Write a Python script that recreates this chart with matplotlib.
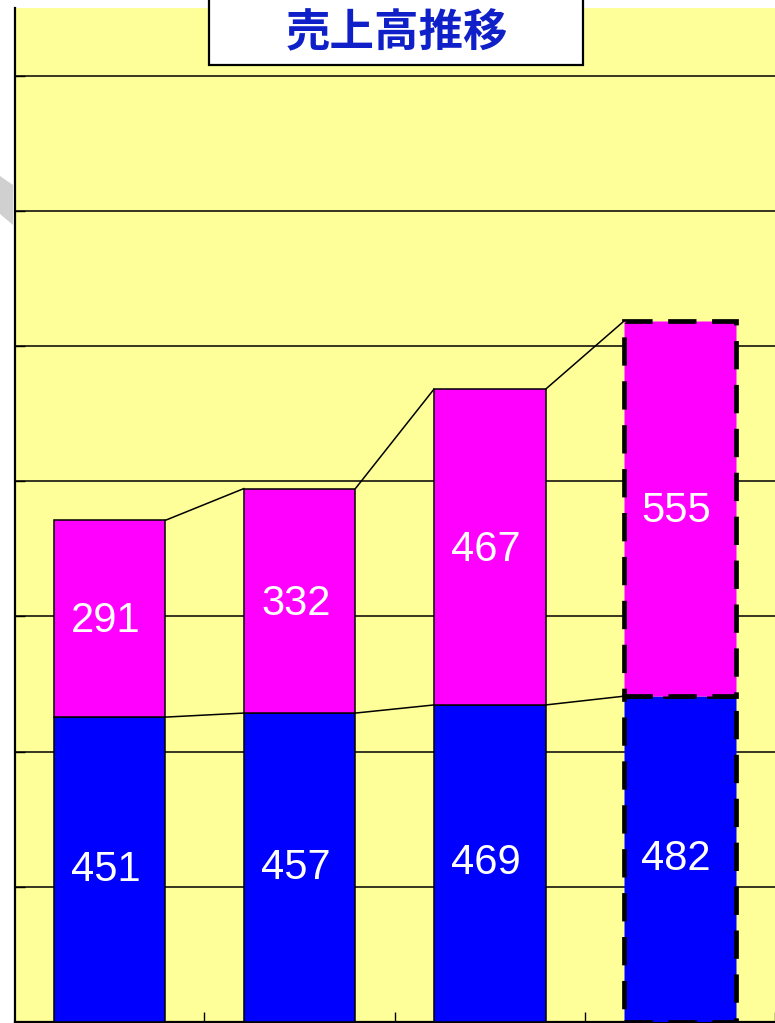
import matplotlib.pyplot as plt
from matplotlib.patches import Rectangle, Polygon

# data
years = ["1", "2", "3", "4"]
lower_vals = [451, 457, 469, 482]
upper_vals = [291, 332, 467, 555]
title = "売上高推移"

W, H = 775, 1023
fig = plt.figure(figsize=(W / 100, H / 100), dpi=100)
fig.patch.set_facecolor("white")

# plot area: left edge at px 15, top at px 8, runs off the right side
ax = fig.add_axes([15 / W, 1 / H, (W - 15) / W, (1022 - 8) / H])
ax.set_facecolor("#FFFF99")

x = list(range(len(years)))
width = 0.587
totals = [a + b for a, b in zip(lower_vals, upper_vals)]

bars_lo = ax.bar(x, lower_vals, width, color="#0000FF", edgecolor="black", linewidth=1.1, zorder=3)
bars_hi = ax.bar(x, upper_vals, width, bottom=lower_vals, color="#FF00FF",
                 edgecolor="black", linewidth=1.1, zorder=3)

# last bar (forecast) gets a heavy dashed outline
for b in (bars_lo[-1], bars_hi[-1]):
    b.set_linestyle((0, (6, 3.3)))
    b.set_linewidth(3.4)

# series lines joining the bar tops
for i in range(len(x) - 1):
    ax.plot([x[i] + width / 2, x[i + 1] - width / 2], [lower_vals[i], lower_vals[i + 1]],
            color="black", lw=1.1, zorder=4)
    ax.plot([x[i] + width / 2, x[i + 1] - width / 2], [totals[i], totals[i + 1]],
            color="black", lw=1.1, zorder=4)

for i in x:
    ax.text(i - 0.02, lower_vals[i] / 2, str(lower_vals[i]), color="white", fontsize=30,
            family="Liberation Sans", ha="center", va="center", zorder=5)
    ax.text(i - 0.02, lower_vals[i] + upper_vals[i] / 2 - 4, str(upper_vals[i]), color="white",
            fontsize=30, family="Liberation Sans", ha="center", va="center", zorder=5)

ax.set_xlim(-0.496, 3.452)
ax.set_ylim(0, 1500)
ax.set_yticks(range(200, 1500, 200))
ax.set_xticks([0.5, 1.5, 2.5, 3.5])
ax.tick_params(direction="in", length=7, width=1, labelleft=False, labelbottom=False)
ax.yaxis.grid(True, color="black", lw=1.1)
ax.set_axisbelow(True)
for s in ["top", "right"]:
    ax.spines[s].set_visible(False)
ax.spines["left"].set_linewidth(1.6)
ax.spines["bottom"].set_linewidth(1.6)

# grey decoration at left margin
fig.patches.append(Polygon([(0, 1 - 176 / H), (13 / W, 1 - 185 / H), (13 / W, 1 - 225 / H), (0, 1 - 214 / H)],
                           closed=True, transform=fig.transFigure, facecolor="#D0D0D0",
                           edgecolor="none", zorder=1))

# title box
fig.patches.append(Rectangle((209 / W, 1 - 65 / H), (583 - 209) / W, 80 / H, transform=fig.transFigure,
                             facecolor="white", edgecolor="black", lw=1.6, zorder=10))
fig.text(397 / W, 1 - 33 / H, title, color="#1020C8", fontsize=32, fontweight="bold",
         family=["Noto Sans CJK JP", "DejaVu Sans"], ha="center", va="center", zorder=11)

fig.savefig("out.png", dpi=100)
